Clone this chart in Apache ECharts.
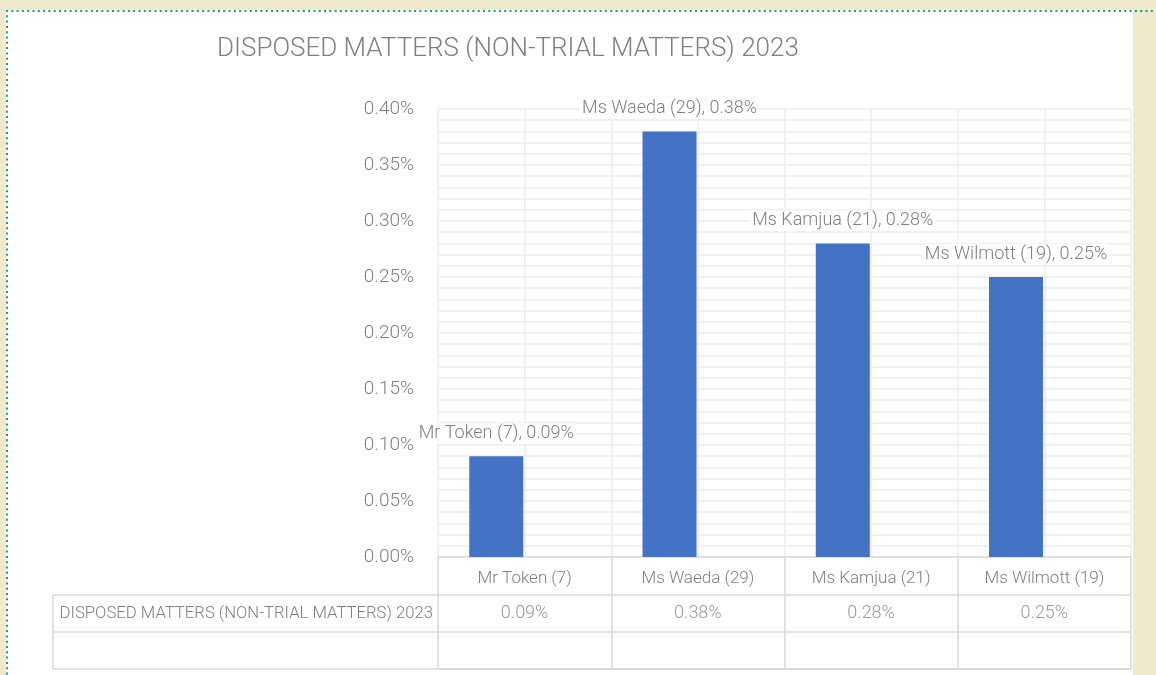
<!DOCTYPE html>
<html>
<head>
<meta charset="utf-8">
<script src="https://cdn.jsdelivr.net/npm/echarts@6/dist/echarts.min.js"></script>
<style>
html,body{margin:0;padding:0;background:#f0eacc;}
#c{width:1156px;height:675px;}
</style>
</head>
<body>
<div id="c"></div>
<script>
const TITLE = 'DISPOSED MATTERS (NON-TRIAL MATTERS) 2023';
const SERIES_NAME = 'DISPOSED MATTERS (NON-TRIAL MATTERS) 2023';
const categories = ['Mr Token (7)', 'Ms Waeda (29)', 'Ms Kamjua (21)', 'Ms Wilmott (19)'];
const values = [0.09, 0.38, 0.28, 0.25]; // percent
const emptySeries = ['-', '-', '-', '-'];
const yTicks = { min: 0, max: 0.4, interval: 0.05 };

const FONT = "Roboto, sans-serif";
const FW = 300;
const GRAY = '#7f7f7f';
const GRID_C = '#ededed';
const TABLE_C = '#d9d9d9';

const chart = echarts.init(document.getElementById('c'), null, { renderer: 'canvas' });
const fmt = v => Number(v).toFixed(2) + '%';

const option = {
  backgroundColor: '#f0eacc',
  animation: false,
  textStyle: { fontFamily: FONT, color: GRAY, fontWeight: FW },
  title: {
    text: TITLE,
    left: 212, top: 31,
    textStyle: { fontFamily: FONT, fontSize: 26, fontWeight: FW, color: GRAY }
  },
  graphic: [
    { type: 'rect', z: -10, shape: { x: 6, y: 10, width: 1127, height: 670 }, style: { fill: '#ffffff' } },
    { type: 'line', z: -5, shape: { x1: 6, y1: 11, x2: 1156, y2: 11 }, style: { stroke: '#16999a', lineWidth: 2, lineDash: [2, 3.3] } },
    { type: 'line', z: -5, shape: { x1: 7, y1: 10, x2: 7, y2: 675 }, style: { stroke: '#16999a', lineWidth: 2, lineDash: [2, 3.3] } }
  ],
  grid: [
    { left: 438, right: 25, top: 109, bottom: 118, containLabel: false },
    { left: 438, right: 25, top: 595, bottom: 6, containLabel: false }
  ],
  xAxis: [
    {
      type: 'category', gridIndex: 0, data: categories,
      axisLine: { show: true, lineStyle: { color: TABLE_C, width: 1.5 } },
      axisTick: { show: true, length: 38, lineStyle: { color: TABLE_C, width: 1.5 } },
      axisLabel: { margin: 13, fontSize: 17, color: GRAY, fontFamily: FONT, fontWeight: FW },
      splitLine: { show: false }
    },
    {
      type: 'value', gridIndex: 0, min: 0, max: 8, interval: 1, position: 'top',
      axisLine: { show: false }, axisTick: { show: false }, axisLabel: { show: false },
      splitLine: { show: true, lineStyle: { color: GRID_C, width: 1.5 } }
    },
    {
      type: 'category', gridIndex: 1, data: categories, position: 'bottom',
      axisLine: { show: true, lineStyle: { color: TABLE_C, width: 1.5 } },
      axisTick: { show: false }, axisLabel: { show: false },
      splitLine: { show: true, lineStyle: { color: TABLE_C, width: 1.5 } }
    }
  ],
  yAxis: [
    {
      type: 'value', gridIndex: 0, min: yTicks.min, max: yTicks.max, interval: yTicks.interval,
      axisLine: { show: false }, axisTick: { show: false },
      axisLabel: { margin: 24, fontSize: 19, color: GRAY, fontFamily: FONT, fontWeight: FW, formatter: v => fmt(v) },
      splitLine: { show: true, lineStyle: { color: GRID_C, width: 1.5 } },
      minorTick: { show: false, splitNumber: 5 },
      minorSplitLine: { show: true, lineStyle: { color: GRID_C, width: 1.5 } }
    },
    {
      type: 'category', gridIndex: 1, data: [SERIES_NAME, ''], inverse: true,
      axisLine: { show: false },
      axisTick: { show: true, length: 385, lineStyle: { color: TABLE_C, width: 1.5 } },
      axisLabel: { margin: 5, fontSize: 16.7, color: GRAY, fontFamily: FONT, fontWeight: FW },
      splitLine: { show: true, lineStyle: { color: TABLE_C, width: 1.5 } }
    },
    {
      type: 'category', gridIndex: 1, data: [SERIES_NAME, ''], position: 'left', offset: 385,
      axisLine: { show: true, lineStyle: { color: TABLE_C, width: 1.5 } },
      axisTick: { show: false }, axisLabel: { show: false }, splitLine: { show: false }
    }
  ],
  series: [
    {
      name: SERIES_NAME, type: 'bar', xAxisIndex: 0, yAxisIndex: 0,
      data: values, barWidth: 54, barGap: '5%',
      itemStyle: { color: '#4472c4' },
      label: {
        show: true, position: 'top', distance: 13,
        fontSize: 18, color: GRAY, fontFamily: FONT, fontWeight: FW,
        backgroundColor: '#ffffff', padding: [1, 2],
        formatter: p => p.name + ', ' + fmt(p.value)
      },
      z: 3
    },
    {
      name: '', type: 'bar', xAxisIndex: 0, yAxisIndex: 0,
      data: emptySeries, barWidth: 54, barGap: '5%'
    },
    {
      type: 'scatter', xAxisIndex: 2, yAxisIndex: 1,
      data: categories.map((c, i) => [c, SERIES_NAME, values[i]]),
      symbolSize: 1, itemStyle: { color: 'rgba(0,0,0,0)' },
      label: {
        show: true, position: 'inside', fontSize: 18, color: GRAY, fontFamily: FONT, fontWeight: FW,
        formatter: p => fmt(p.value[2])
      }
    }
  ]
};
chart.setOption(option);
</script>
</body>
</html>
